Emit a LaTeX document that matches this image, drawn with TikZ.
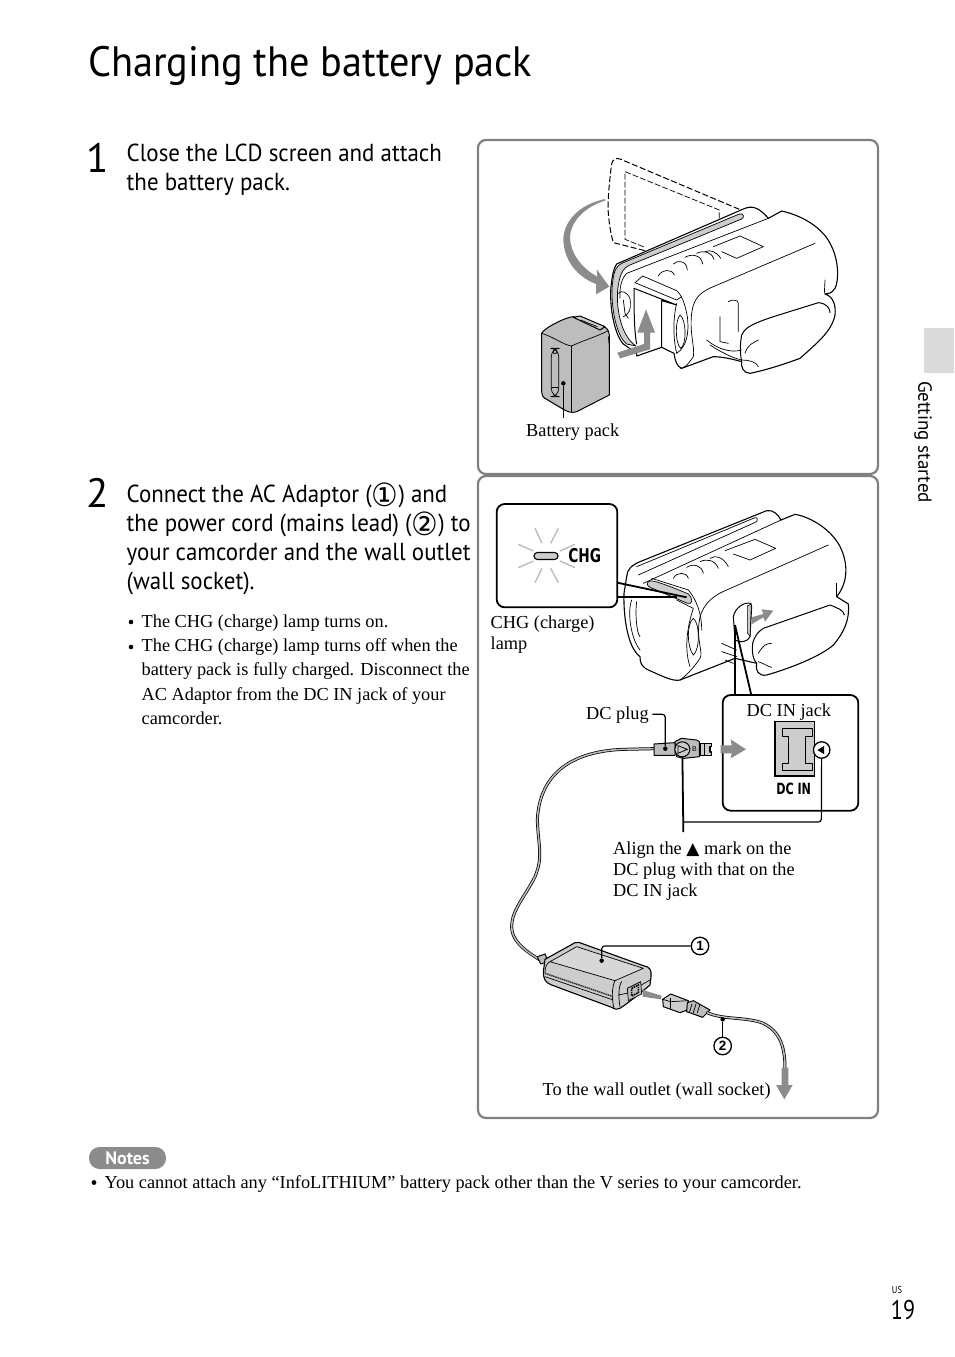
\documentclass[tikz,border=0pt]{standalone}
\usepackage{fontspec}
\setmainfont{Liberation Serif}
\newfontfamily\hdf{PT Sans}
\newfontfamily\djf{DejaVu Sans}
\newfontfamily\lsf{Liberation Sans}
\definecolor{pgray}{HTML}{808080}
\definecolor{agray}{HTML}{8C8C8C}
\definecolor{lgray}{HTML}{CDCDCD}
\definecolor{mgray}{HTML}{BDBDBD}
\tikzset{
 panel/.style={draw=pgray,line width=2.2pt,rounded corners=8pt,fill=white},
 ser/.style={font=\fontsize{18.3}{21}\selectfont,inner sep=0pt,anchor=base west,align=left},
 stepf/.style={font=\hdf\fontsize{24.6}{29}\selectfont,inner sep=0pt,anchor=base west,xscale=.932},
 num/.style={font=\hdf\fontsize{41}{41}\selectfont,inner sep=0pt,anchor=base},
 cam/.style={draw=black,line width=1pt,line join=round,line cap=round},
 thin cam/.style={draw=black,line width=.7pt,line join=round,line cap=round},
 lead/.style={draw=black,line width=1.8pt},
 leadt/.style={draw=black,line width=1.2pt},
 cnum/.style={circle,draw=black,line width=1.3pt,fill=white,inner sep=0pt,minimum size=17.5pt,font=\lsf\bfseries\fontsize{13.5}{14}\selectfont},
 cable/.style={draw=black,line width=3pt,line cap=round},
 cablei/.style={draw=mgray,line width=1.5pt,line cap=round},
}
\begin{document}
\begin{tikzpicture}[x=1pt,y=-1pt]
\useasboundingbox (0,0) rectangle (954,1357);
\fill[white] (0,0) rectangle (954,1357);
% page furniture
\node[font=\hdf\fontsize{42.5}{44}\selectfont,inner sep=0pt,anchor=base west,xscale=.948] (title) at (88,76) {Charging the battery pack};
\node[num] (n1) at (98,172) {1};
\node[num] (n2) at (98,507) {2};
\node[stepf] (s1a) at (126.5,161) {Close the LCD screen and attach};
\node[stepf] (s1b) at (126.5,190) {the battery pack.};
\node[stepf] (s2a) at (126.5,502) {Connect the AC Adaptor (\raisebox{-4pt}{\djf\fontsize{32}{32}\selectfont ①}) and};
\node[stepf] (s2b) at (126.5,531) {the power cord (mains lead) (\raisebox{-4pt}{\djf\fontsize{32}{32}\selectfont ②}) to};
\node[stepf] (s2c) at (126.5,560) {your camcorder and the wall outlet};
\node[stepf] (s2d) at (126.5,589) {(wall socket).};
\foreach \yy in {627,652}{\fill (131,\yy-5) circle (2.3pt);}
\node[ser] (b1) at (141.5,627) {The CHG (charge) lamp turns on.};
\node[ser] (b2a) at (141.5,651) {The CHG (charge) lamp turns off when the};
\node[ser] (b2b) at (141.5,675.5) {battery pack is fully charged. Disconnect the};
\node[ser] (b2c) at (141.5,700) {AC Adaptor from the DC IN jack of your};
\node[ser] (b2d) at (141.5,724.5) {camcorder.};
\node[fill=agray,rounded corners=10.5pt,minimum width=77pt,minimum height=22pt,inner sep=0pt,text=white,font=\hdf\bfseries\fontsize{18}{18}\selectfont] (notes) at (127.5,1158) {Notes};
\fill (94,1182.5) circle (2.4pt);
\node[ser] (note) at (104.5,1188) {You cannot attach any “InfoLITHIUM” battery pack other than the V series to your camcorder.};
\fill[lgray!75] (924,328) rectangle (954,373);
\node[font=\hdf\fontsize{19}{19}\selectfont,rotate=-90,inner sep=0pt] (side) at (923,442) {Getting started};
\node[font=\hdf\fontsize{10}{10}\selectfont,inner sep=0pt,xscale=.85] (us) at (897,1290) {US};
\node[font=\hdf\fontsize{27}{28}\selectfont,inner sep=0pt,xscale=.82] (pg) at (903,1310) {19};
% panels
\draw[panel] (478,140) rectangle (878,474);
\draw[panel] (478,476) rectangle (878,1118);

%%%%% panel 1 illustration
\begin{scope}[shift={(480,140)},x=.33333pt,y=-.33333pt]
 % dashed LCD
 \draw[black,line width=1pt,dash pattern=on 6pt off 2.5pt] (778,208) -- (420,57) .. controls (395,50) and (395,70) .. (392,95) .. controls (388,130) and (382,190) .. (385,220) .. controls (388,260) and (395,290) .. (400,308) -- (495,332);
 \draw[black,line width=.7pt,dash pattern=on 6pt off 2pt] (718,235) -- (718,210) -- (435,95) -- (435,298) -- (495,322);
 % curved arrow
 \fill[agray] (375,177) .. controls (290,195) and (250,250) .. (250,300) .. controls (252,360) and (290,410) .. (348,432) -- (348,463) -- (388,440) -- (350,388) -- (352,410) .. controls (305,385) and (272,340) .. (270,295) .. controls (270,245) and (315,200) .. (375,182) -- cycle;
 % camcorder body
 \draw[cam,fill=white,line width=1.1pt] (410,372) -- (790,207) .. controls (815,196) and (835,200) .. (865,235) -- (905,213) .. controls (960,225) and (1030,260) .. (1055,320) .. controls (1075,360) and (1078,420) .. (1065,445) .. controls (1055,460) and (1045,462) .. (1035,462) .. controls (1060,470) and (1068,495) .. (1065,525) .. controls (1055,575) and (1010,610) .. (960,655) .. controls (920,670) and (860,690) .. (810,700) .. controls (790,700) and (782,680) .. (785,665) .. controls (750,655) and (720,650) .. (700,650) -- (605,685) .. controls (590,680) and (585,660) .. (582,640) -- (545,622) -- (470,648) -- (470,640) -- (430,612) .. controls (400,580) and (385,480) .. (395,425) .. controls (398,395) and (405,380) .. (410,372) -- cycle;
 % gray band of LCD
 \draw[thin cam,fill=lgray] (778,222) .. controls (790,218) and (795,232) .. (785,237) -- (450,375) .. controls (425,385) and (418,410) .. (413,450) .. controls (408,510) and (425,590) .. (468,618) -- (440,612) .. controls (405,585) and (390,480) .. (398,425) .. controls (402,390) and (410,378) .. (425,370) -- cycle;
 % top lines
 \draw[thin cam] (865,235) -- (440,400) .. controls (425,415) and (418,440) .. (420,475);
 \draw[thin cam] (1005,310) -- (700,440) .. controls (655,458) and (640,480) .. (635,520) .. controls (628,580) and (645,620) .. (640,650) ;
 \draw[thin cam] (640,650) .. controls (620,680) and (610,685) .. (600,685);
 \draw[thin cam] (700,320) -- (780,288) -- (850,320) -- (770,355) -- (725,335);
 % buttons
 \draw[thin cam] (535,408) .. controls (545,388) and (575,385) .. (583,405);
 \draw[thin cam] (580,372) .. controls (590,360) and (620,360) .. (622,390);
 \draw[thin cam] (615,352) .. controls (635,340) and (665,345) .. (668,372);
 \draw[thin cam] (650,340) .. controls (670,330) and (695,335) .. (702,358);
 \draw[thin cam] (675,335) .. controls (690,328) and (710,335) .. (722,355);
 % flash
 \draw[thin cam] (465,428) -- (488,408) -- (590,452) .. controls (605,465) and (615,490) .. (622,530) .. controls (628,580) and (620,620) .. (590,640);
 \draw[thin cam] (465,428) -- (590,480) -- (605,470);
 % battery bay
 \draw[cam] (462,445) -- (590,495) -- (545,482) -- (545,622);
 \draw[cam] (462,445) .. controls (462,500) and (462,570) .. (470,612) ;
 \draw[thin cam] (590,490) .. controls (580,530) and (578,590) .. (590,640);
 \draw[thin cam] (600,525) .. controls (585,540) and (585,610) .. (602,625) .. controls (620,615) and (620,540) .. (600,525) -- cycle;
 % side details
 \draw[thin cam] (415,460) .. controls (425,450) and (440,455) .. (450,475) .. controls (455,510) and (445,525) .. (430,530) ;
 \draw[thin cam] (430,480) -- (435,520) -- (445,535);
 % handle
 \draw[thin cam] (745,485) .. controls (755,478) and (775,478) .. (775,490) -- (775,575);
 \draw[thin cam] (720,530) -- (720,605) -- (745,610);
 \draw[cam] (785,585) .. controls (800,550) and (850,540) .. (1015,488) .. controls (1040,490) and (1050,505) .. (1050,518);
 \draw[cam] (785,585) .. controls (780,610) and (780,640) .. (785,665);
 \draw[thin cam] (680,600) .. controls (710,625) and (750,640) .. (785,630);
 \draw[thin cam] (690,615) .. controls (720,635) and (760,655) .. (785,660);
 \draw[thin cam] (795,640) .. controls (805,610) and (820,610) .. (835,600);
 \draw[thin cam] (785,660) .. controls (805,660) and (830,665) .. (835,680);
 \draw[thin cam] (1035,420) -- (1033,460);
 % arrow L
 \fill[agray] (412,638) -- (492,612) -- (492,578) -- (472,578) -- (498,508) -- (525,578) -- (510,578) -- (510,628) -- (420,655) -- cycle;
 % battery
 \draw[cam,fill=mgray] (185,580) .. controls (190,565) and (260,530) .. (280,530) -- (370,558) .. controls (388,568) and (388,580) .. (388,595) -- (388,765) -- (290,815) .. controls (275,820) and (262,815) .. (250,808) -- (195,775) .. controls (185,770) and (185,760) .. (185,745) -- cycle;
 \draw[thin cam] (185,580) .. controls (220,590) and (250,615) .. (275,618) .. controls (300,605) and (350,590) .. (385,572);
 \draw[thin cam] (275,618) -- (275,815);
 \draw[cam,fill=lgray] (280,532) -- (300,528) -- (375,560) -- (360,570) -- cycle;
 \draw[thin cam] (302,540) -- (352,560);
 \draw[thin cam] (385,590) -- (388,615);
 \draw[thin cam,rounded corners=8pt] (214,625) rectangle (236,770);
 \draw[thin cam] (225,635) circle (2pt);
 \draw[thin cam] (216,742) -- (234,742);
 \node[circle,fill=black,inner sep=0pt,minimum size=4.5pt] (battdot) at (250,730) {};
 \coordinate (battend) at (250,835);
 \draw[leadt] (battdot) -- (battend);
\end{scope}
\node[ser] (battlab) at (526,436.5) {Battery pack};

%%%%% panel 2 illustration
\begin{scope}[shift={(480,480)},x=.33333pt,y=-.33333pt]
 % camera
 \draw[cam,fill=white,line width=1.1pt] (440,290) .. controls (440,270) and (455,255) .. (480,245) -- (860,92) .. controls (880,88) and (895,105) .. (903,120) -- (945,103) .. controls (990,110) and (1060,150) .. (1085,210) .. controls (1105,260) and (1102,310) .. (1070,350) -- (1105,372) .. controls (1110,420) and (1090,460) .. (1060,495) .. controls (1020,530) and (930,565) .. (860,585) .. controls (835,590) and (825,570) .. (830,550) -- (765,535) -- (600,600) .. controls (580,605) and (550,590) .. (505,570) .. controls (485,560) and (480,550) .. (480,530) .. controls (440,500) and (430,400) .. (432,340) -- cycle;
 \draw[thin cam] (475,285) -- (830,125) .. controls (835,115) and (830,110) .. (820,115) -- (470,260);
 \draw[thin cam] (490,310) -- (903,120);
 \draw[thin cam] (1045,195) -- (740,330) .. controls (690,350) and (660,385) .. (657,430) .. controls (650,480) and (670,520) .. (660,535) .. controls (640,565) and (615,590) .. (600,600);
 \draw[thin cam] (735,212) -- (825,178) -- (887,205) -- (810,240) -- (760,222);
 \draw[thin cam] (580,295) .. controls (590,275) and (620,275) .. (625,295);
 \draw[thin cam] (620,262) .. controls (640,250) and (665,255) .. (670,280);
 \draw[thin cam] (660,245) .. controls (680,235) and (705,240) .. (715,265);
 \draw[thin cam] (690,235) .. controls (705,225) and (730,230) .. (745,260);
 % lens, flash
 \draw[thin cam] (640,415) .. controls (620,430) and (620,500) .. (640,525) .. controls (660,510) and (660,430) .. (640,415) -- cycle;
 \draw[thin cam] (515,295) -- (625,330) .. controls (650,360) and (665,400) .. (665,450);
 \draw[thin cam] (590,360) -- (640,385) .. controls (625,430) and (610,500) .. (630,560);
 \draw[thin cam] (455,360) .. controls (440,400) and (455,480) .. (480,510);
 \draw[thin cam] (470,365) .. controls (465,400) and (470,460) .. (480,470);
 % gray CHG strip
 \draw[thin cam,fill=lgray] (510,303) .. controls (520,298) and (610,335) .. (625,342) .. controls (640,355) and (638,375) .. (622,370) -- (510,322) .. controls (498,315) and (500,306) .. (510,303) -- cycle;
 % jack opening
 \draw[cam,fill=white] (760,410) .. controls (765,385) and (790,365) .. (812,370) -- (815,380) -- (810,470) .. controls (805,485) and (780,490) .. (765,480) -- cycle;
 \fill[lgray,draw=black,line width=.6pt] (802,378) -- (814,372) -- (810,468) -- (802,458) -- cycle;
 % grip
 \draw[cam] (818,490) .. controls (825,465) and (835,455) .. (850,445) -- (1050,375) .. controls (1075,385) and (1090,390) .. (1093,405);
 \draw[cam] (818,490) .. controls (815,520) and (820,540) .. (830,550);
 \draw[thin cam] (725,490) -- (770,510);
 \draw[thin cam] (725,515) -- (770,530);
 \draw[thin cam] (735,540) -- (760,550);
 \draw[thin cam] (835,520) .. controls (850,495) and (860,490) .. (875,490);
 \draw[thin cam] (835,545) .. controls (850,550) and (865,560) .. (875,562);
 \draw[thin cam] (1070,310) -- (1070,350);
 \fill[agray] (815,412) -- (850,402) -- (845,388) -- (880,392) -- (855,425) -- (850,412) -- (816,432) -- cycle;
 % CHG inset
 \coordinate (l1) at (620,352);
 \coordinate (l2) at (590,350);
 \draw[lead] (412,308) -- (l1);
 \draw[lead] (412,350) -- (l2);
 \draw[draw=black,line width=1.8pt,rounded corners=8pt,fill=white] (50,72) rectangle (412,382);
 \node[draw=black,line width=1.1pt,fill=lgray,rounded corners=3.4pt,minimum width=24pt,minimum height=7pt,inner sep=0pt] (lamp) at (198,228) {};
 \foreach \a/\b/\c/\d in {165/145/186/190, 235/145/212/190, 115/193/160/213, 285/193/240/213, 115/263/160/243, 285/263/240/243, 165/308/186/265, 235/308/212/265}
   \draw[mgray,line width=1.4pt] (\a,\b) -- (\c,\d);
 \node[font=\djf\bfseries\fontsize{19}{19}\selectfont,xscale=.72,inner sep=0pt] (chg) at (314,228) {CHG};
 % DC IN inset
 \coordinate (j1) at (765,435);
 \draw[lead] (j1) -- (765,650);
 \draw[lead] (j1) -- (815,650);
 \draw[draw=black,line width=1.8pt,rounded corners=8pt,fill=white] (728,645) rectangle (1135,992);
 \draw[black,line width=1.5pt,fill=lgray] (885,725) rectangle (1003,888);
 \draw[black,line width=1pt,line join=round] (908,745) -- (998,745) -- (998,768) -- (976,768) -- (976,850) -- (998,850) -- (998,870) -- (908,870) -- (908,850) -- (925,850) -- (925,768) -- (908,768) -- cycle;
 \node[cnum,minimum size=16.5pt] (jackmark) at (1025,810) {};
 \fill[black] (1012,810) -- (1032,798) -- (1032,822) -- cycle;
 \node[font=\djf\bfseries\fontsize{15.5}{16}\selectfont,xscale=.72,inner sep=0pt] (dcin) at (941,928) {DC IN};
 % cable
 \draw[cable] (522,806) -- (430,808) .. controls (320,812) and (180,850) .. (172,1020) .. controls (175,1100) and (190,1130) .. (165,1190) .. controls (135,1250) and (95,1290) .. (95,1340) .. controls (95,1390) and (150,1420) .. (180,1440);
 \draw[cablei] (522,806) -- (430,808) .. controls (320,812) and (180,850) .. (172,1020) .. controls (175,1100) and (190,1130) .. (165,1190) .. controls (135,1250) and (95,1290) .. (95,1340) .. controls (95,1390) and (150,1420) .. (180,1440);
 % plug
 \draw[cam,fill=mgray] (522,792) -- (585,788) -- (585,826) -- (522,826) -- cycle;
 \draw[cam,fill=mgray] (585,785) -- (605,775) -- (650,780) -- (658,785) -- (658,830) -- (612,835) -- (590,830) -- cycle;
 \draw[cam,fill=lgray,line width=1.2pt] (660,790) -- (695,790) -- (695,800) -- (690,800) -- (690,816) -- (695,816) -- (695,826) -- (660,826) -- cycle;
 \draw[thin cam] (673,790) -- (673,826);
 \node[circle,draw=black,line width=1pt,fill=lgray,minimum size=15pt,inner sep=0pt] (plugmark) at (607,808) {};
 \draw[black,line width=.8pt,line join=miter] (594,797) -- (622,808) -- (594,820) -- cycle;
 \node[font=\lsf\fontsize{7}{7}\selectfont,inner sep=0pt] (plugb) at (643,806) {B};
 \node[circle,fill=black,inner sep=0pt,minimum size=4.5pt] (plugdot) at (556,806) {};
 \coordinate (plugc) at (556,703);
 \coordinate (plugd) at (517,703);
 \draw[leadt,rounded corners=3pt] (plugdot) -- (plugc) -- (plugd);
 % arrow to jack
 \fill[agray] (722,796) -- (755,796) -- (752,778) -- (798,808) -- (752,835) -- (755,820) -- (722,820) -- cycle;
 % align leaders
 \coordinate (brl) at (610,1026);
 \coordinate (brd) at (610,1056);
 \coordinate (brr) at (1024,1026);
 \draw[lead] (plugmark) -- (brd);
 \draw[leadt,rounded corners=3pt] (jackmark) -- (brr) -- (brl);
\end{scope}
\node[ser] (chglab) at (490.5,628.5) {CHG (charge)};
\node[ser] (lamplab) at (490.5,649.5) {lamp};
\node[ser] (dcplug) at (586,719.5) {DC plug};
\node[ser] (dcjack) at (746.5,716) {DC IN jack};
\node[ser] (al1) at (613,854) {Align the {\djf\fontsize{17}{17}\selectfont ▲} mark on the};
\node[ser] (al2) at (613,875) {DC plug with that on the};
\node[ser] (al3) at (613,896) {DC IN jack};

%%%%% adapter
\begin{scope}[shift={(480,820)},x=.33333pt,y=-.33333pt]
 % strain relief
 \draw[cam,fill=mgray] (172,410) -- (195,402) -- (205,425) -- (182,432) -- cycle;
 % body
 \draw[cam,fill=lgray,line width=1.1pt] (195,418) -- (285,368) .. controls (295,365) and (300,368) .. (310,372) -- (490,437) .. controls (510,440) and (515,450) .. (513,470) -- (510,495) .. controls (480,520) and (450,545) .. (420,565) .. controls (412,570) and (405,568) .. (395,562) -- (215,495) .. controls (195,488) and (190,475) .. (190,455) -- cycle;
 \draw[thin cam,fill=lgray!80] (210,425) -- (290,380) -- (490,445) -- (405,482) -- cycle;
 \draw[thin cam] (405,482) .. controls (395,500) and (395,540) .. (402,565);
 \draw[thin cam] (425,485) .. controls (415,500) and (415,530) .. (420,560);
 \draw[thin cam] (210,425) .. controls (198,430) and (195,445) .. (195,458);
 \draw[black!80,line width=1.5pt,dash pattern=on 1.5pt off .7pt] (195,460) -- (400,530);
 \draw[black,line width=.7pt] (195,470) -- (400,540);
 \draw[thin cam] (440,520) -- (510,480);
 \draw[thin cam] (415,525) -- (440,520);
 \draw[thin cam,fill=mgray] (442,505) -- (482,485) -- (485,522) -- (445,542) -- cycle;
 \draw[black,line width=1.6pt,dash pattern=on 1.5pt off .8pt] (455,505) -- (475,495) -- (475,518) -- (455,528) -- cycle;
 \fill[agray] (488,510) -- (545,527) -- (542,538) -- (488,530) -- cycle;
 % power plug
 \draw[cam,fill=lgray] (548,538) -- (572,522) -- (625,542) -- (622,570) -- (600,578) -- (550,560) -- cycle;
 \draw[thin cam] (572,535) -- (572,565);
 \draw[thin cam] (548,538) -- (572,545) -- (625,542);
 \draw[cam,fill=mgray] (622,548) -- (640,542) -- (690,570) -- (668,592) -- (620,575) -- cycle;
 \foreach \q in {636,648,660}{\draw[thin cam] (\q,552) -- (\q-8,578);}
 % cord
 \draw[cable] (682,578) .. controls (730,600) and (800,590) .. (850,610) .. controls (900,635) and (915,680) .. (915,745);
 \draw[cablei] (682,578) .. controls (730,600) and (800,590) .. (850,610) .. controls (900,635) and (915,680) .. (915,745);
 \fill[agray] (905,743) -- (925,743) -- (925,795) -- (938,795) -- (913,838) -- (888,795) -- (905,795) -- cycle;
 % leaders
 \node[circle,fill=black,inner sep=0pt,minimum size=4.5pt] (addot) at (365,422) {};
 \node[cnum] (c1) at (660,378) {1};
 \coordinate (adc) at (365,378);
 \draw[leadt,rounded corners=3pt] (addot) -- (adc) -- (c1);
 \node[circle,fill=black,inner sep=0pt,minimum size=4.5pt] (corddot) at (728,598) {};
 \node[cnum] (c2) at (728,678) {2};
 \draw[leadt] (corddot) -- (c2);
\end{scope}
\node[ser] (wall) at (542.5,1095.5) {To the wall outlet (wall socket)};
\end{tikzpicture}
\end{document}
